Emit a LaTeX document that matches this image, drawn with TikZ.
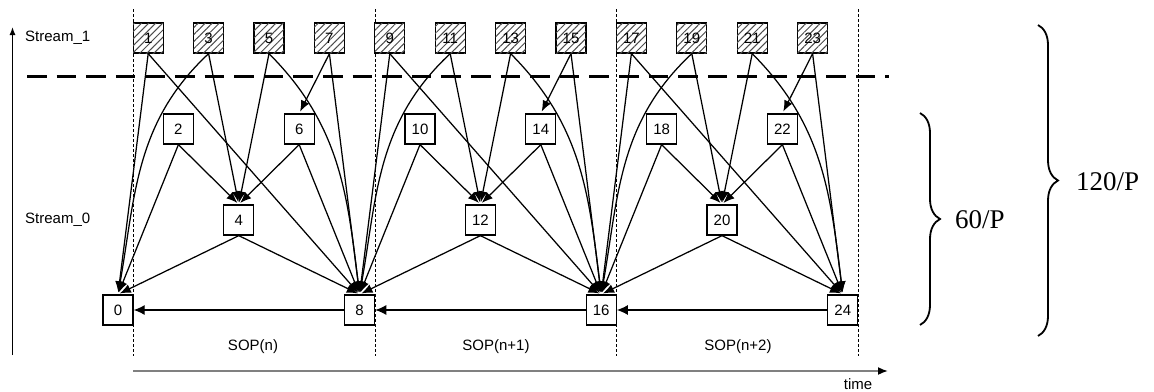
\documentclass[tikz,border=0pt]{standalone}
\usepackage{fontspec}
\setmainfont{Liberation Sans}
\newfontfamily\serifnum{Liberation Serif}
\usetikzlibrary{arrows.meta,patterns.meta,decorations.pathreplacing}
\begin{document}
\begin{tikzpicture}[x=1pt,y=1pt,
  lbl/.style={font=\fontsize{15}{16}\selectfont, inner sep=0pt},
  box/.style={draw, line width=1.3pt, minimum size=30pt, inner sep=0pt, fill=white, font=\fontsize{15}{16}\selectfont},
  hbox/.style={box, postaction={pattern={Lines[angle=45,distance=5pt,line width=1pt]}, pattern color=gray!60!black}},
  ed/.style={line width=1.25pt, -{Latex[length=11pt,width=9pt]}, shorten >=2pt},
  harr/.style={line width=1.25pt, -{Latex[length=11pt,width=10pt]}},
  vdash/.style={line width=0.8pt, dash pattern=on 3pt off 2pt},
  brc/.style={line width=1.8pt, decorate, decoration={brace, amplitude=20pt}},
  big/.style={font=\serifnum\fontsize{27}{28}\selectfont, inner sep=0pt, anchor=west}
]
\useasboundingbox (0,0) rectangle (1154,-391);

% vertical dashed separators
\foreach \x in {133,375,616,858}{
  \draw[vdash] (\x,-9) -- (\x,-356);
}
% thick dashed horizontal line
\draw[line width=3pt, dash pattern=on 19.6pt off 10pt] (27,-76) -- (889,-76);

% axes
\coordinate (ya) at (12.5,-355);
\coordinate (yb) at (12.5,-27);
\draw[line width=1.2pt, -{Latex[length=8pt,width=6pt]}] (ya) -- (yb);
\coordinate (ta) at (133,-371);
\coordinate (tb) at (888,-371);
\draw[line width=1.7pt, draw=gray, -{Latex[length=10pt,width=8pt,color=black]}] (ta) -- (tb);
\node[lbl] (time) at (858,-384) {time};

% labels
\node[lbl, anchor=west] (s1) at (25,-38) {Stream\_1};
\node[lbl, anchor=west] (s0) at (25,-220) {Stream\_0};
\node[lbl] (sop0) at (253,-347) {SOP(n)};
\node[lbl] (sop1) at (496,-347) {SOP(n+1)};
\node[lbl] (sop2) at (738,-347) {SOP(n+2)};

% nodes
\foreach \k in {1,3,...,23}{
  \node[hbox] (n\k) at ({118+30.2*\k},-38) {\k};
}
\foreach \k in {2,6,10,14,18,22}{
  \node[box] (n\k) at ({118+30.2*\k},-129) {\k};
}
\foreach \k in {4,12,20}{
  \node[box] (n\k) at ({118+30.2*\k},-220) {\k};
}
\foreach \k in {0,8,16,24}{
  \node[box] (n\k) at ({118+30.2*\k},-310) {\k};
}

% edges
\foreach \b in {0,8,16}{
  \pgfmathtruncatemacro\ba{\b+1}
  \pgfmathtruncatemacro\bb{\b+2}
  \pgfmathtruncatemacro\bc{\b+3}
  \pgfmathtruncatemacro\bd{\b+4}
  \pgfmathtruncatemacro\be{\b+5}
  \pgfmathtruncatemacro\bf{\b+6}
  \pgfmathtruncatemacro\bg{\b+7}
  \pgfmathtruncatemacro\bh{\b+8}
  \draw[ed] (n\ba.south) -- (n\b.north);
  \draw[ed] (n\ba.south) -- (n\bh.north);
  \draw[ed] (n\bc.south) to[out=-137,in=80] (n\b.north);
  \draw[ed] (n\bc.south) -- (n\bd.north);
  \draw[ed] (n\be.south) -- (n\bd.north);
  \draw[ed] (n\be.south) to[out=-45,in=97] (n\bh.north);
  \draw[ed] (n\bg.south) -- (n\bf.north);
  \draw[ed] (n\bg.south) -- (n\bh.north);
  \draw[ed] (n\bb.south) -- (n\b.north);
  \draw[ed] (n\bb.south) -- (n\bd.north);
  \draw[ed] (n\bf.south) -- (n\bd.north);
  \draw[ed] (n\bf.south) -- (n\bh.north);
  \draw[ed] (n\bd.south) -- (n\b.north);
  \draw[ed] (n\bd.south) -- (n\bh.north);
  \draw[harr] (n\bh.west) -- (n\b.east);
}

% braces
\coordinate (b1a) at (920,-113);
\coordinate (b1b) at (920,-325);
\draw[brc] (b1a) -- (b1b);
\node[big] (l60) at (955,-220) {60/P};
\coordinate (b2a) at (1038,-25);
\coordinate (b2b) at (1038,-336);
\draw[brc] (b2a) -- (b2b);
\node[big] (l120) at (1076,-182) {120/P};
\end{tikzpicture}
\end{document}
